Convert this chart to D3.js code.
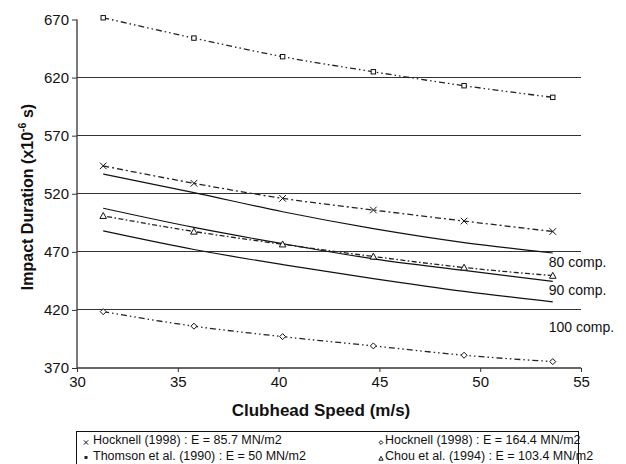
<!DOCTYPE html>
<html>
<head>
<meta charset="utf-8">
<script src="https://cdn.jsdelivr.net/npm/d3@7"></script>
<style>
  body { margin: 0; background: #fff; }
  svg { display: block; font-family: Arial, "Liberation Sans", sans-serif; }
</style>
</head>
<body>
<svg id="chart" width="626" height="464"></svg>
<script>
// Clubhead speed (m/s) for 70..120 mph
const speeds = [31.3, 35.8, 40.2, 44.7, 49.2, 53.6];

// Measured / published impact durations (x10^-6 s)
const hocknell857  = [544, 529, 516, 506, 496.5, 487.5];
const thomson50    = [671.5, 654, 638, 625, 613, 603];
const chou1034     = [501, 487.5, 476.5, 466, 456.5, 449.5];
const hocknell1644 = [418.5, 406, 397, 389, 381, 375.5];

// Model curves for three ball compressions
const comp80  = [537, 521, 504.5, 490, 478, 469];
const comp90  = [507.5, 491, 477, 464, 454, 444.5];
const comp100 = [488, 472, 459, 447, 436, 427];
const compNames = ["80 comp.", "90 comp.", "100 comp."];
const compLabelSpeed = [53.4, 53.4, 53.4];
const compLabelTime  = [461, 437, 405.5];

const xTicks = [30, 35, 40, 45, 50, 55];
const yTicks = [370, 420, 470, 520, 570, 620, 670];

const seriesNames = [
  "Hocknell (1998) : E = 85.7 MN/m2",
  "Thomson et al. (1990) : E = 50 MN/m2",
  "Hocknell (1998) : E = 164.4 MN/m2",
  "Chou et al. (1994) : E = 103.4 MN/m2"
];

const svg = d3.select("#chart");
const x = d3.scaleLinear().domain([30, 55]).range([77, 581]);
const y = d3.scaleLinear().domain([370, 670]).range([368, 19.5]);

// horizontal gridlines
svg.append("g").selectAll("line")
  .data(yTicks.filter(t => t !== 370 && t !== 670))
  .join("line")
  .attr("x1", x(30)).attr("x2", x(55))
  .attr("y1", d => y(d)).attr("y2", d => y(d))
  .attr("stroke", "#333").attr("stroke-width", 1)
  .attr("shape-rendering", "crispEdges");

// axes
const yAxis = d3.axisLeft(y).tickValues(yTicks).tickSize(5).tickPadding(3).tickFormat(d3.format("d"));
const xAxis = d3.axisBottom(x).tickValues(xTicks).tickSize(4).tickPadding(4).tickFormat(d3.format("d"));

const gy = svg.append("g").attr("transform", `translate(${x(30)},0)`).call(yAxis);
const gx = svg.append("g").attr("transform", `translate(0,${y(370)})`).call(xAxis);
[gx, gy].forEach(g => {
  g.select(".domain").attr("stroke", "#333").attr("stroke-width", 1.3);
  g.selectAll(".tick line").attr("stroke", "#333");
  g.selectAll(".tick text").attr("font-size", 15).attr("fill", "#111")
    .attr("font-family", "Arial, 'Liberation Sans', sans-serif");
});
gy.select(".domain").attr("d", `M-0,${y(670)}V${y(370)}`);
gx.select(".domain").attr("d", `M${x(30)},0H${x(55)}`);

// axis titles
svg.append("text")
  .attr("x", 321).attr("y", 416)
  .attr("text-anchor", "middle")
  .attr("font-size", 17).attr("font-weight", "bold").attr("fill", "#111")
  .text("Clubhead Speed (m/s)");

const yt = svg.append("text")
  .attr("transform", "translate(33,197) rotate(-90)")
  .attr("font-size", 16).attr("font-weight", "bold").attr("fill", "#111");
yt.append("tspan").text("Impact Duration (x10");
yt.append("tspan").attr("font-size", 10.5).attr("dy", -7).text("-6");
yt.append("tspan").attr("dy", 7).text(" s)");
yt.attr("x", -yt.node().getComputedTextLength() / 2);

// model curves (solid)
const line = d3.line().x(d => x(d[0])).y(d => y(d[1])).curve(d3.curveMonotoneX);
[comp80, comp90, comp100].forEach(vals => {
  svg.append("path")
    .attr("d", line(speeds.map((s, i) => [s, vals[i]])))
    .attr("fill", "none").attr("stroke", "#111").attr("stroke-width", 1.2);
});

// compression labels
svg.append("g").selectAll("text")
  .data(compNames)
  .join("text")
  .attr("x", (d, i) => x(compLabelSpeed[i]))
  .attr("y", (d, i) => y(compLabelTime[i]))
  .attr("dy", "0.35em")
  .attr("font-size", 14).attr("fill", "#111")
  .text(d => d);

// published series with their trend lines and markers
const series = [
  { vals: hocknell857,  dash: "6,3,2,3",           marker: "cross" },
  { vals: thomson50,    dash: "6,3,1.5,3,1.5,3",   marker: "square" },
  { vals: hocknell1644, dash: "6,3,1.5,3,1.5,3",   marker: "diamond" },
  { vals: chou1034,     dash: "1.6,2.4,5,2.4",     marker: "triangle" }
];

function drawMarker(g, type, cx, cy, scale) {
  const s = scale || 1;
  if (type === "cross") {
    const r = 3.3 * s;
    g.append("path")
      .attr("d", `M${cx - r},${cy - r}L${cx + r},${cy + r}M${cx - r},${cy + r}L${cx + r},${cy - r}`)
      .attr("stroke", "#111").attr("stroke-width", 1).attr("fill", "none");
  } else if (type === "square") {
    const r = 2.2 * s;
    g.append("rect").attr("x", cx - r).attr("y", cy - r).attr("width", 2 * r).attr("height", 2 * r)
      .attr("fill", "#fff").attr("stroke", "#111").attr("stroke-width", 1);
  } else if (type === "diamond") {
    const r = 3 * s;
    g.append("path")
      .attr("d", `M${cx},${cy - r}L${cx + r},${cy}L${cx},${cy + r}L${cx - r},${cy}Z`)
      .attr("fill", "#fff").attr("stroke", "#111").attr("stroke-width", 1);
  } else if (type === "triangle") {
    const r = 3.3 * s;
    g.append("path")
      .attr("d", `M${cx},${cy - r}L${cx + r},${cy + r * 0.8}L${cx - r},${cy + r * 0.8}Z`)
      .attr("fill", "#fff").attr("stroke", "#111").attr("stroke-width", 1);
  }
}

series.forEach(sr => {
  const pts = speeds.map((s, i) => [s, sr.vals[i]]);
  svg.append("path")
    .attr("d", line(pts))
    .attr("fill", "none").attr("stroke", "#222").attr("stroke-width", 1.3)
    .attr("stroke-dasharray", sr.dash);
  const g = svg.append("g");
  pts.forEach(p => drawMarker(g, sr.marker, x(p[0]), y(p[1])));
});

// legend
const legend = svg.append("g");
legend.append("rect")
  .attr("x", 76.5).attr("y", 431.5).attr("width", 502).attr("height", 40)
  .attr("fill", "#fff").attr("stroke", "#111").attr("stroke-width", 1);
const legendPos = [[86, 440], [86, 456], [381, 440], [381, 456]];
series.forEach((sr, i) => {
  const [lx, ly] = legendPos[i];
  const g = legend.append("g");
  if (sr.marker === "square") {
    g.append("rect").attr("x", lx - 1.5).attr("y", ly).attr("width", 3).attr("height", 3).attr("fill", "#222");
  } else {
    drawMarker(g, sr.marker, lx, ly + 2.5, 0.65);
  }
  legend.append("text")
    .attr("x", lx + (i < 2 ? 7 : 4)).attr("y", ly).attr("dy", "0.35em")
    .attr("font-size", 12.5).attr("fill", "#111")
    .text(seriesNames[i]);
});
</script>
</body>
</html>
